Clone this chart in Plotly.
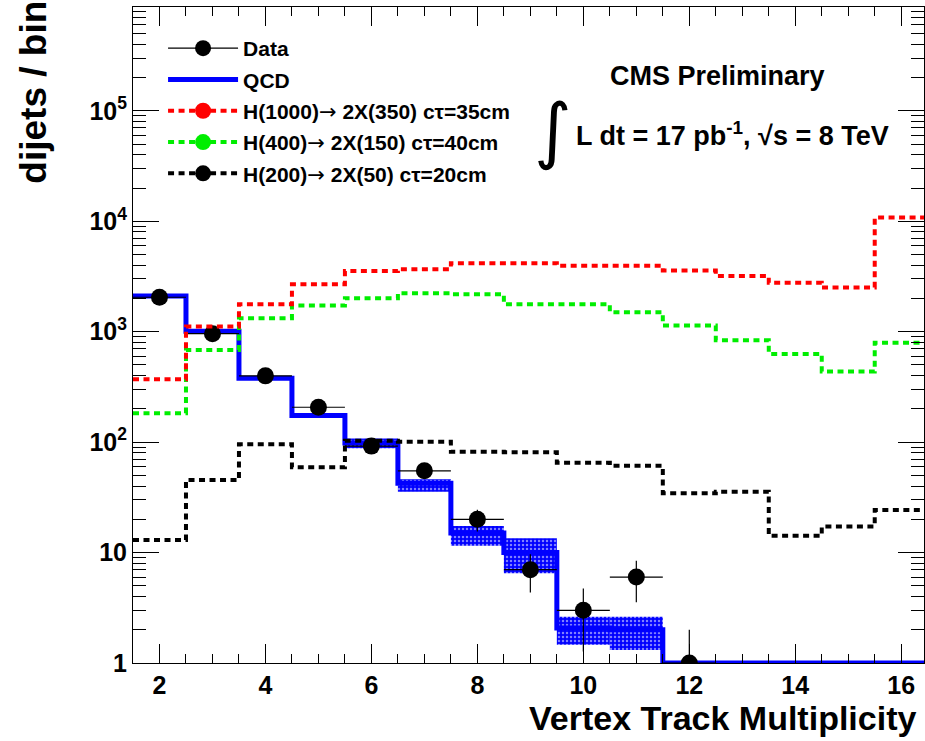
import numpy as np
import plotly.graph_objects as go

# ---- data ----
bins = [2, 3, 4, 5, 6, 7, 8, 9, 10, 11, 12, 13, 14, 15, 16]
qcd = [2100, 1010, 379, 174, 98, 42.5, 15, 10, 2.07, 2.0, 1, 1, 1, 1, 1]
h1000 = [371, 1112, 1775, 2693, 3535, 3685, 4175, 4175, 3945, 3945, 3580, 3185, 2767, 2512, 10800]
h400 = [183, 684, 1325, 1725, 2010, 2234, 2187, 1775, 1775, 1502, 1135, 838, 629, 435, 796]
h200 = [13, 45.4, 95.7, 59.2, 103, 101, 82, 81, 65, 61, 34.5, 35.6, 14.2, 17.2, 24.3]

data_x = [2, 3, 4, 5, 6, 7, 8, 9, 10, 11, 12]
data_y = [2050, 960, 398, 207, 92, 55, 20, 7, 3, 6, 1]

band_x = [5, 6, 7, 8, 9, 10, 11]
band_lo = [165, 88, 35.6, 11.5, 6.5, 1.46, 1.31]
band_hi = [182, 108, 46, 17.4, 13.5, 2.62, 2.62]

yticks = [1, 10, 100, 1000, 10000, 100000]
yticktext = ["1", "10", "10<sup>2</sup>", "10<sup>3</sup>", "10<sup>4</sup>", "10<sup>5</sup>"]
xticks = [2, 4, 6, 8, 10, 12, 14, 16]

FONT = "Liberation Sans, Arial, sans-serif"
ARROW = "<span style='font-family:DejaVu Sans;font-weight:normal'>\u2192</span>"


def step(vals):
    c = np.array(bins, dtype=float)
    xe = list(c - 0.5) + [c[-1] + 0.5]
    ye = list(vals) + [vals[-1]]
    return xe, ye


fig = go.Figure()

# QCD uncertainty band
fig.add_trace(go.Bar(
    x=band_x, y=np.array(band_hi) - np.array(band_lo), base=band_lo, width=1,
    marker=dict(color="blue", line_width=0,
                pattern=dict(shape=".", fgcolor="white", bgcolor="blue", size=4, solidity=0.3)),
    showlegend=False, hoverinfo="skip"))

# QCD
xe, ye = step(qcd)
fig.add_trace(go.Scatter(x=xe, y=ye, mode="lines", line=dict(color="blue", width=5, shape="hv"),
                         showlegend=False))

# Data
dy = np.sqrt(np.array(data_y, dtype=float))
dym = np.minimum(dy, np.array(data_y) * 0.999)
fig.add_trace(go.Scatter(
    x=data_x, y=data_y, mode="markers",
    marker=dict(color="black", size=17),
    error_y=dict(type="data", array=dy, arrayminus=dym, thickness=1.2, width=0, color="black"),
    error_x=dict(type="constant", value=0.5, thickness=1.2, width=0, color="black"),
    showlegend=False))

# Signals
dash = "6px,4.5px"
for vals, col in [(h200, "black"), (h400, "#00ee00"), (h1000, "red")]:
    xe, ye = step(vals)
    fig.add_trace(go.Scatter(x=xe, y=ye, mode="lines",
                             line=dict(color=col, width=4, shape="hv", dash=dash),
                             showlegend=False))

# Legend entries
legend_items = [
    ("Data", "black", "solid", 1.2, True),
    ("QCD", "blue", "solid", 5, False),
    (f"H(1000){ARROW} 2X(350) c\u03c4=35cm", "red", dash, 4, True),
    (f"H(400){ARROW} 2X(150) c\u03c4=40cm", "#00ee00", dash, 4, True),
    (f"H(200){ARROW} 2X(50) c\u03c4=20cm", "black", dash, 4, True),
]
for i, (name, col, ds, w, mk) in enumerate(legend_items):
    fig.add_trace(go.Scatter(
        x=[None], y=[None], name=name, legendgroup=f"g{i}",
        mode="lines+markers" if mk else "lines",
        line=dict(color=col, width=w, dash=ds),
        marker=dict(color=col, size=16)))

fig.update_layout(
    width=925, height=741,
    margin=dict(l=133, r=1, t=7, b=78),
    paper_bgcolor="white", plot_bgcolor="white",
    font=dict(family=FONT, color="black", weight="bold"),
    barmode="overlay",
    legend=dict(x=0.038, y=0.968, xanchor="left", yanchor="top",
                bgcolor="rgba(0,0,0,0)", font=dict(size=21, family=FONT, weight="bold"),
                traceorder="grouped", tracegroupgap=1, itemwidth=70),
    xaxis=dict(range=[1.5, 16.43], tickmode="array", tickvals=xticks,
               ticks="inside", ticklen=19, tickwidth=1, tickcolor="black",
               showline=True, linecolor="black", linewidth=1, mirror="ticks",
               showgrid=False, zeroline=False,
               tickfont=dict(size=25, family=FONT, weight="bold"),
               minor=dict(dtick=0.5, tick0=0, ticks="inside", ticklen=9, tickcolor="black", showgrid=False)),
    yaxis=dict(type="log", range=[0, 5.94], tickmode="array", tickvals=yticks, ticktext=yticktext,
               ticks="inside", ticklen=26, tickwidth=1, tickcolor="black",
               showline=True, linecolor="black", linewidth=1, mirror="ticks",
               showgrid=False, zeroline=False,
               tickfont=dict(size=25, family=FONT, weight="bold"),
               minor=dict(tickmode="array",
                          tickvals=[m * 10 ** k for k in range(0, 6) for m in range(2, 10)],
                          ticks="inside", ticklen=13, tickcolor="black", showgrid=False)),
    annotations=[
        dict(text="CMS Preliminary", xref="paper", yref="paper", x=(717 - 133) / 791, y=(663 - 76) / 656,
             xanchor="center", yanchor="middle", showarrow=False,
             font=dict(size=27, family=FONT, weight="bold")),
        dict(text="\u222b", xref="paper", yref="paper", x=(553 - 133) / 791, y=(663 - 130) / 656,
             xanchor="center", yanchor="middle", showarrow=False,
             font=dict(size=72, family="DejaVu Sans", weight="normal")),
        dict(text="L dt = 17 pb<sup>-1</sup>, \u221as = 8 TeV", xref="paper", yref="paper",
             x=(574 - 133) / 791, y=(663 - 134) / 656,
             xanchor="left", yanchor="middle", showarrow=False,
             font=dict(size=27, family=FONT, weight="bold")),
        dict(text="Vertex Track Multiplicity", xref="paper", yref="paper", x=(918 - 133) / 791,
             y=(663 - 718) / 656,
             xanchor="right", yanchor="middle", showarrow=False,
             font=dict(size=34, family=FONT, weight="bold")),
        dict(text="dijets / bin", xref="paper", yref="paper", x=(34 - 133) / 791, y=1.012,
             xanchor="center", yanchor="top", textangle=-90, showarrow=False,
             font=dict(size=37, family=FONT, weight="bold")),
    ],
)

fig.write_html("out.html")
